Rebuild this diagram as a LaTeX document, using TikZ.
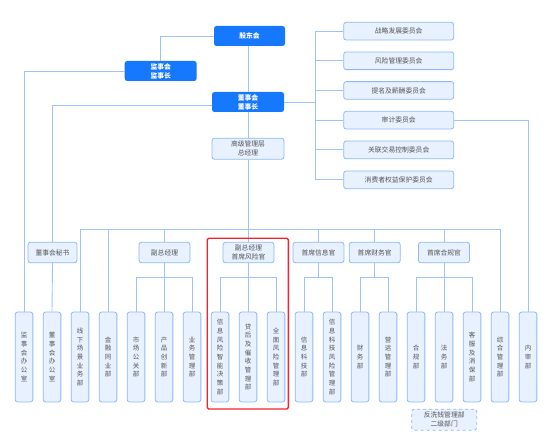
\documentclass[tikz,border=0pt]{standalone}
\usepackage{fontspec}
\setmainfont{Noto Sans CJK SC}
\definecolor{darkb}{HTML}{1677FF}
\definecolor{lightbg}{HTML}{E8F1FF}
\definecolor{bordb}{HTML}{8DB9FA}
\definecolor{lineb}{HTML}{9CC3FF}
\definecolor{txtg}{HTML}{555555}
\definecolor{redb}{HTML}{F5222D}
\begin{document}
\begin{tikzpicture}[x=1pt,y=-1pt,
 darkbox/.style={fill=darkb, rounded corners=2.5pt, text=white, minimum width=72pt, minimum height=20pt, inner sep=0pt, align=center, font=\fontsize{6.8}{9}\selectfont\bfseries},
 lightbox/.style={fill=lightbg, draw=bordb, line width=0.8pt, rounded corners=2.5pt, text=txtg, inner sep=0pt, align=center, font=\fontsize{6.8}{9}\selectfont},
 cbox/.style={lightbox, minimum width=110pt, minimum height=17.7pt},
 lvbox/.style={lightbox, minimum width=51pt, minimum height=20.5pt},
 vbox/.style={lightbox, minimum width=17.7pt, minimum height=90pt, font=\fontsize{6.5}{8.7}\selectfont},
 conn/.style={draw=lineb, line width=0.9pt},
]
\useasboundingbox (0,0) rectangle (554,441);

% top level
\node[darkbox, minimum width=71pt] (gdh) at (249.5,36) {股东会};
\node[darkbox] (jsh) at (160.7,71) {监事会\\监事长};
\node[darkbox] (dsh) at (248,102) {董事会\\董事长};
\node[lightbox, minimum width=72pt, minimum height=21pt] (gj) at (248,148.7) {高级管理层\\总经理};

% committees
\node[cbox] (c1) at (398.7,31.2) {战略发展委员会};
\node[cbox] (c2) at (398.7,60.8) {风险管理委员会};
\node[cbox] (c3) at (398.7,90.5) {提名及薪酬委员会};
\node[cbox] (c4) at (398.7,120.2) {审计委员会};
\node[cbox] (c5) at (398.7,149.9) {关联交易控制委员会};
\node[cbox] (c6) at (398.7,179.8) {消费者权益保护委员会};

% level 2
\node[lvbox, minimum width=49pt] (dms) at (52.5,252.5) {董事会秘书};
\node[lvbox] (v1) at (164.5,252.5) {副总经理};
\node[lvbox] (v2) at (248.5,252.5) {副总经理\\首席风险官};
\node[lvbox] (v3) at (318.5,252.5) {首席信息官};
\node[lvbox] (v4) at (374.7,252.5) {首席财务官};
\node[lvbox] (v5) at (444,252.5) {首席合规官};

% bottom departments
\foreach \i/\t in {
 1/{监\\事\\会\\办\\公\\室},
 2/{董\\事\\会\\办\\公\\室},
 3/{线\\下\\场\\景\\业\\务\\部},
 4/{金\\融\\同\\业\\部},
 5/{市\\场\\公\\关\\部},
 6/{产\\品\\创\\新\\部},
 7/{业\\务\\管\\理\\部},
 8/{信\\息\\风\\险\\智\\能\\决\\策\\部},
 9/{贷\\后\\及\\催\\收\\管\\理\\部},
 10/{全\\面\\风\\险\\管\\理\\部},
 11/{信\\息\\科\\技\\部},
 12/{信\\息\\科\\技\\风\\险\\管\\理\\部},
 13/{财\\务\\部},
 14/{营\\运\\管\\理\\部},
 15/{合\\规\\部},
 16/{法\\务\\部},
 17/{客\\服\\及\\消\\保\\部},
 18/{综\\合\\管\\理\\部},
 19/{内\\审\\部}}{
  \node[vbox] (b\i) at ({24+28*(\i-1)},357) {\t};
}

\node[lightbox, dashed, minimum width=65pt, minimum height=21pt] (fxq) at (444.2,419.7) {反洗钱管理部\\二级部门};

% connectors top
\draw[conn] (gdh.west) -| (jsh.north);
\draw[conn] (gdh.south -| dsh.north) -- (dsh.north);
\draw[conn] (jsh.west) -| (b1.north);
\draw[conn] ([yshift=-3pt]dsh.west) -| (dms.north);
\draw[conn] (dms.south) -- (b2.north);
\draw[conn] (dsh.south) -- (gj.north);

% committees spine
\coordinate (sp) at (315,0);
\draw[conn] (c1.west) -- (c1.west -| sp) -- (c6.west -| sp) -- (c6.west);
\foreach \n in {c2,c3,c4,c5} \draw[conn] (\n.west) -- (\n.west -| sp);
\draw[conn] (dsh.east) -- (dsh.east -| sp);
\draw[conn] (c4.east) -| (b19.north);

% main bus
\coordinate (bus) at (0,229);
\draw[conn] (b3.north) -- (b3.north |- bus) -- (b18.north |- bus) -- (b18.north);
\draw[conn] (gj.south) -- (gj.south |- bus);
\foreach \n in {b4,v1,v2,v3,v4,v5} \draw[conn] (\n.north) -- (\n.north |- bus);

% sub buses
\coordinate (sub) at (0,277);
\foreach \p/\a/\b in {v1/b5/b7, v2/b8/b10, v3/b11/b12, v4/b13/b14, v5/b15/b17}{
  \draw[conn] (\p.south) -- (\p.south |- sub);
  \draw[conn] (\a.north) -- (\a.north |- sub) -- (\b.north |- sub) -- (\b.north);
}
\foreach \n in {b6,b9,b16} \draw[conn] (\n.north) -- (\n.north |- sub);

% highlight
\draw[redb, line width=1.4pt, rounded corners=1.5pt] (207.2,238.2) rectangle (288.3,409);
\end{tikzpicture}
\end{document}
